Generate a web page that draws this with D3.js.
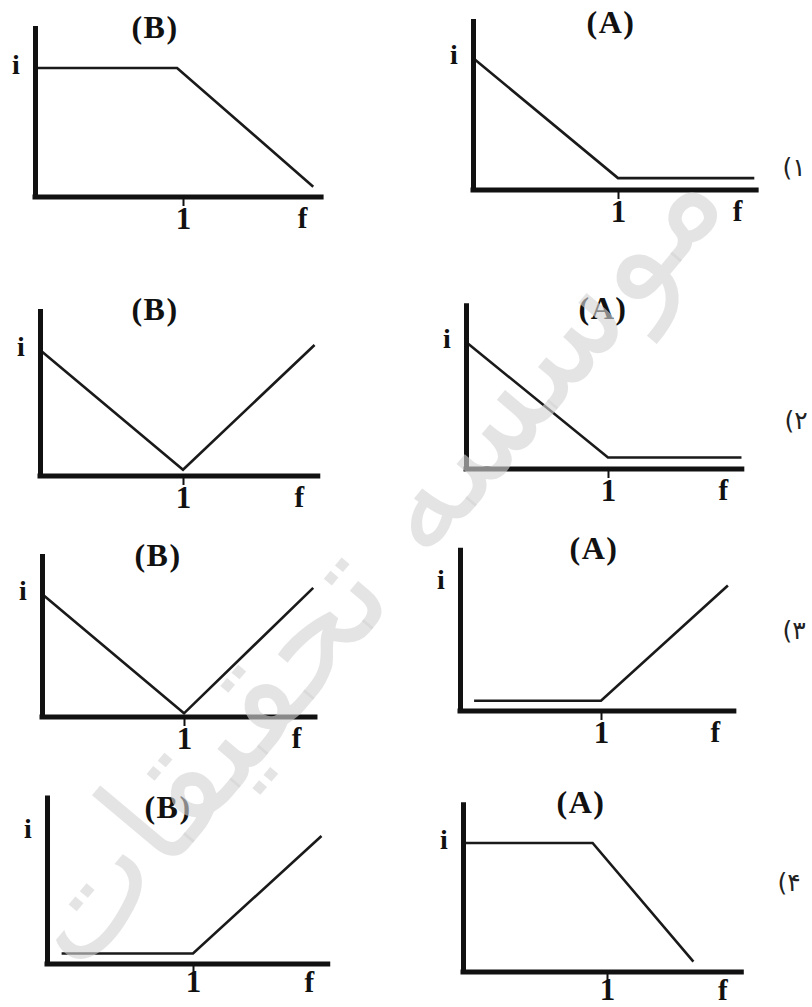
<!DOCTYPE html>
<html>
<head>
<meta charset="utf-8">
<script src="https://cdn.jsdelivr.net/npm/d3@7"></script>
<style>
  body { margin: 0; background: #fff; }
  svg { display: block; }
</style>
</head>
<body>
<script>
var svgWidth = 812;
var svgHeight = 1007;

// values in chart units: f along x (tick at f = 1), i along y
var titles = ["(B)", "(A)", "(B)", "(A)", "(B)", "(A)", "(B)", "(A)"];
var rowLabels = ["(\u06F1", "(\u06F2", "(\u06F3", "(\u06F4"];
var tickLabels = ["1"];
var yLabel = "i";
var xLabel = "f";
var watermark = "موسسه تحقیقات";

var curve1B = [[0, 1], [0.96, 1], [1.88, 0.08]];
var curve1A = [[0, 1], [1, 0.09], [1.94, 0.09]];
var curve2B = [[0, 1], [1, 0.05], [1.92, 1.04]];
var curve2A = [[0, 1], [1, 0.09], [1.94, 0.09]];
var curve3B = [[0, 1], [1, 0.03], [1.91, 1.05]];
var curve3A = [[0.1, 0.08], [1, 0.08], [1.9, 0.98]];
var curve4B = [[0.1, 0.08], [1, 0.08], [1.88, 0.97]];
var curve4A = [[0, 1], [0.9, 1], [1.6, 0.08]];
var curves = [curve1B, curve1A, curve2B, curve2A, curve3B, curve3A, curve4B, curve4A];

// where each little chart sits on the page
var layout = [
    { left: 35, bottom: 197, ux: 148, uy: 129, xMax: 1.95, yMax: 1.33, tx: 155, ty: 38 },
    { left: 473, bottom: 190, ux: 145, uy: 132, xMax: 1.97, yMax: 1.30, tx: 611, ty: 33 },
    { left: 40, bottom: 476, ux: 143, uy: 126, xMax: 1.96, yMax: 1.33, tx: 155, ty: 320 },
    { left: 466, bottom: 469, ux: 142, uy: 127, xMax: 1.96, yMax: 1.31, tx: 603, ty: 319 },
    { left: 42, bottom: 717, ux: 142, uy: 123, xMax: 1.94, yMax: 1.33, tx: 158, ty: 566 },
    { left: 460, bottom: 711, ux: 141, uy: 128, xMax: 1.96, yMax: 1.28, tx: 594, ty: 559 },
    { left: 47, bottom: 964, ux: 146, uy: 132, xMax: 1.94, yMax: 1.28, tx: 168, ty: 818 },
    { left: 463, bottom: 972, ux: 144, uy: 129, xMax: 1.95, yMax: 1.32, tx: 581, ty: 813 }
];
var rowLabelPos = [[794, 176], [796, 429], [794, 639], [789, 891]];

var serif = "'Liberation Serif', 'Times New Roman', serif";

var svg = d3.select("body")
    .append("svg")
    .attr("width", svgWidth)
    .attr("height", svgHeight);

layout.forEach(function (p, k) {
    var x = d3.scaleLinear().domain([0, p.xMax]).range([p.left, p.left + p.xMax * p.ux]);
    var y = d3.scaleLinear().domain([0, p.yMax]).range([p.bottom, p.bottom - p.yMax * p.uy]);
    var g = svg.append("g");
    var lastRow = k >= 6;

    // curve
    g.append("path")
        .datum(curves[k])
        .attr("d", d3.line()
            .x(function (d) { return x(d[0]); })
            .y(function (d) { return y(d[1]); }))
        .attr("fill", "none")
        .attr("stroke", "#1a1a1a")
        .attr("stroke-width", 2.6)
        .attr("stroke-linejoin", "miter");

    // y axis
    var ya = g.append("g")
        .attr("transform", "translate(" + p.left + ",0)")
        .call(d3.axisLeft(y).tickValues([]).tickSizeOuter(0));
    ya.select(".domain").attr("stroke", "#111").attr("stroke-width", 5);

    // x axis, tick at f = 1
    var xa = g.append("g")
        .attr("transform", "translate(0," + p.bottom + ")")
        .call(d3.axisBottom(x).tickValues([1]).tickSize(9).tickSizeOuter(0)
            .tickPadding(1)
            .tickFormat(function () { return tickLabels[0]; }));
    xa.select(".domain").attr("stroke", "#111").attr("stroke-width", 5)
        .attr("d", "M" + (p.left - 2.5) + ",0H" + x(p.xMax));
    xa.selectAll(".tick line").attr("stroke", "#111").attr("stroke-width", 2);
    xa.selectAll(".tick text")
        .attr("font-family", serif)
        .attr("font-weight", "bold")
        .attr("font-size", 31)
        .attr("fill", "#111")
        .attr("dy", null)
        .attr("y", lastRow ? 28 : 32);

    g.append("text")
        .text(yLabel)
        .attr("x", p.left - 19)
        .attr("y", y(1) + 6)
        .attr("text-anchor", "middle")
        .attr("font-family", serif)
        .attr("font-weight", "bold")
        .attr("font-size", 28)
        .attr("fill", "#111");

    g.append("text")
        .text(xLabel)
        .attr("x", x(p.xMax) - 21)
        .attr("y", p.bottom + (lastRow ? 28 : 31))
        .attr("text-anchor", "middle")
        .attr("font-family", serif)
        .attr("font-weight", "bold")
        .attr("font-size", 29)
        .attr("fill", "#111");

    g.append("text")
        .text(titles[k])
        .attr("x", p.tx)
        .attr("y", p.ty)
        .attr("text-anchor", "middle")
        .attr("font-family", serif)
        .attr("font-weight", "bold")
        .attr("font-size", 32)
        .attr("letter-spacing", 1.5)
        .attr("fill", "#111");
});

svg.selectAll("text.row")
    .data(rowLabels)
    .enter()
    .append("text")
    .attr("class", "row")
    .text(function (d) { return d; })
    .attr("x", function (d, i) { return rowLabelPos[i][0]; })
    .attr("y", function (d, i) { return rowLabelPos[i][1]; })
    .attr("text-anchor", "middle")
    .style("direction", "ltr")
    .style("unicode-bidi", "bidi-override")
    .attr("font-family", "'DejaVu Sans', sans-serif")
    .attr("font-size", 25)
    .attr("fill", "#222");

// watermark drawn over the charts, lines still show through
svg.append("text")
    .text(watermark)
    .attr("transform", "translate(405,590) rotate(-50)")
    .attr("text-anchor", "middle")
    .attr("font-family", "'DejaVu Sans', sans-serif")
    .attr("font-size", 142)
    .attr("fill", "#d3d3d3")
    .attr("fill-opacity", 0.62);
</script>
</body>
</html>
